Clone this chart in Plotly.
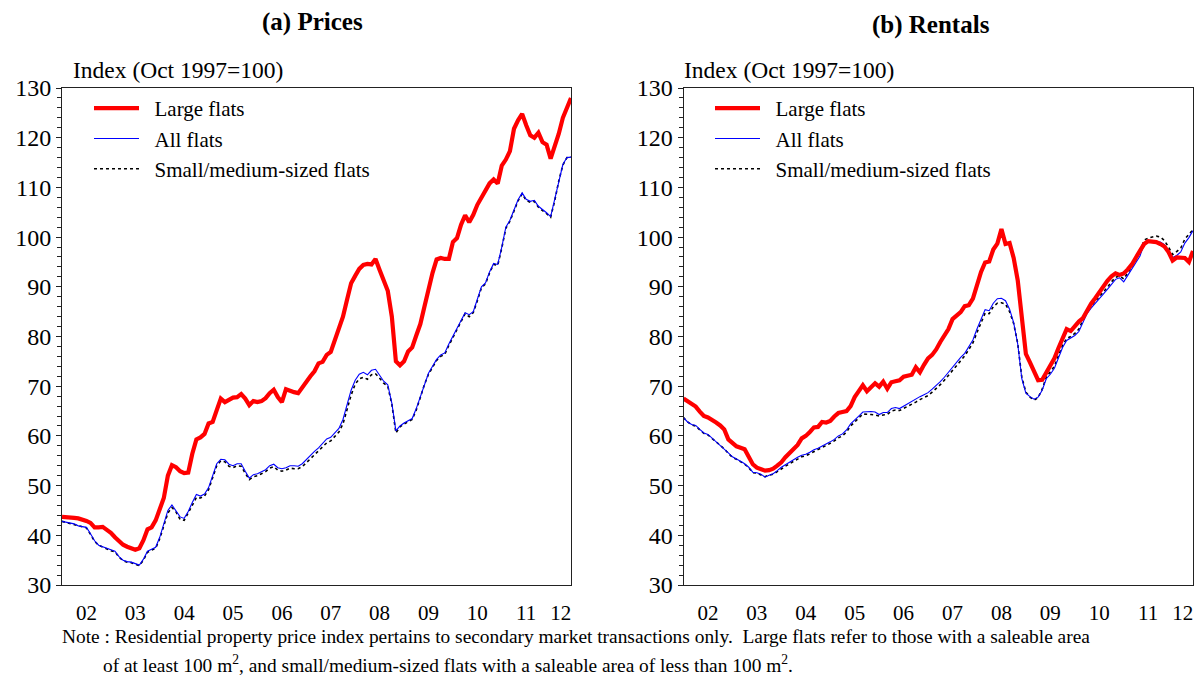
import plotly.graph_objects as go

# ---------------- data (monthly, Jan 2002 - Jun 2012) ----------------
year_labels = ["02", "03", "04", "05", "06", "07", "08", "09", "10", "11", "12"]
n_months = 126

price_large = [43.7,43.7,43.7,43.5,43.4,43.2,42.9,42.5,41.6,41.6,41.7,41.1,
 40.5,39.6,38.7,38.1,37.7,37.5,37.1,37.4,39.0,41.2,41.6,43.0,
 45.3,47.5,52.0,54.1,53.7,52.9,52.5,52.6,56.4,59.3,59.7,60.4,
 62.5,62.8,65.2,67.5,66.8,67.3,67.7,67.8,68.4,67.5,66.2,67.0,
 66.8,67.0,67.6,68.6,69.3,67.8,66.8,69.4,69.0,68.8,68.6,69.8,
 71.0,72.0,73.0,74.6,74.9,76.3,76.9,79.3,81.4,84.0,87.4,90.7,
 92.2,93.6,94.4,94.6,94.5,95.6,93.4,91.0,89.2,84.0,75.0,74.2,
 75.0,77.0,77.8,80.2,82.5,86.0,89.8,92.8,95.5,95.8,95.6,95.6,
 99.0,99.8,102.5,104.4,103.0,104.5,106.5,108.0,109.7,110.8,111.6,110.8,
 114.4,115.6,117.3,121.8,123.5,124.8,122.5,120.5,120.0,121.0,119.1,118.6,
 115.8,118.2,120.8,124.0,126.0,128.0]

price_all = [42.8,42.6,42.5,42.3,41.9,41.8,41.6,40.3,38.9,38.0,37.7,37.4,
 37.0,36.8,35.7,35.0,34.7,34.6,34.3,34.0,35.2,36.8,37.2,37.6,
 39.6,42.3,45.0,46.1,45.0,43.7,43.4,44.8,46.6,48.2,47.9,48.3,
 49.6,52.0,54.4,55.3,55.2,54.3,54.0,54.4,54.4,52.9,51.5,52.2,
 52.4,52.8,53.2,54.0,54.3,53.6,53.4,53.6,54.0,54.0,53.9,54.4,
 55.3,56.2,56.9,57.6,58.6,59.4,59.7,60.5,61.5,63.3,66.3,69.2,
 71.2,72.4,72.8,72.3,73.2,73.4,72.2,71.0,70.3,66.6,61.0,62.0,
 62.6,63.0,63.5,65.5,68.0,70.5,72.6,74.0,75.4,76.3,76.7,78.5,
 80.1,81.5,83.0,84.8,84.4,85.0,87.5,90.0,90.8,93.0,94.7,94.5,
 98.0,102.0,103.4,105.5,107.5,108.9,107.6,107.2,107.4,106.2,105.6,104.9,
 104.1,107.5,111.5,114.6,116.0,116.1]

price_small = [42.8,42.6,42.4,42.2,41.9,41.7,41.5,40.2,38.8,38.0,37.6,37.3,
 36.9,36.7,35.6,34.9,34.6,34.5,34.2,33.9,35.0,36.6,37.0,37.4,
 39.3,42.0,44.5,45.6,44.7,43.2,43.0,44.5,46.2,47.6,47.5,47.9,
 49.2,51.6,54.0,55.0,54.8,53.9,53.6,54.0,53.9,52.5,51.2,51.8,
 52.0,52.4,52.8,53.5,53.8,53.1,52.9,53.1,53.5,53.4,53.4,53.8,
 54.6,55.5,56.2,56.9,57.8,58.6,59.0,59.8,60.8,62.4,65.3,68.2,
 70.4,71.5,71.8,71.4,72.3,72.5,71.6,70.6,70.0,66.4,60.6,61.8,
 62.4,62.9,63.3,65.2,67.8,70.3,72.4,73.8,75.2,76.0,76.4,78.2,
 79.8,81.2,82.8,84.6,84.0,84.8,87.2,89.8,90.6,92.8,94.5,94.3,
 97.8,101.8,103.2,105.3,107.3,108.7,107.4,107.0,107.2,106.0,105.4,104.7,
 104.0,107.3,111.3,114.5,116.0,116.1]

rent_large = [67.5,67.0,66.6,65.9,64.9,64.0,63.7,63.3,62.7,62.1,61.3,59.3,
 58.5,57.9,57.6,57.3,55.8,54.3,53.6,53.3,53.0,53.1,53.4,54.0,
 54.7,55.7,56.6,57.3,58.2,59.5,60.0,60.8,61.7,61.8,62.8,62.7,
 63.0,63.9,64.6,64.8,65.0,66.0,67.8,69.0,70.2,69.0,69.7,70.6,
 69.9,70.9,69.5,70.8,71.0,71.2,71.9,72.1,72.3,73.8,72.8,74.3,
 75.6,76.3,77.4,78.9,80.2,81.5,83.5,84.3,84.9,86.1,86.3,87.6,
 90.4,93.0,94.9,95.1,97.5,98.7,101.6,98.6,98.8,95.8,91.3,83.0,
 76.5,74.8,72.8,71.2,71.3,72.8,74.5,75.6,77.7,79.5,81.5,81.1,
 82.2,83.0,83.7,85.3,86.6,87.7,88.9,90.1,91.2,92.1,92.7,92.4,
 92.7,93.5,94.5,95.9,97.3,98.6,99.2,99.2,99.0,98.6,98.1,97.0,
 95.3,95.9,95.9,95.8,95.0,97.2]

rent_all = [63.7,62.8,62.3,62.1,61.3,60.6,60.3,59.6,58.9,58.2,57.5,56.6,
 55.8,55.4,54.9,54.4,53.7,52.7,52.6,52.3,51.7,52.1,52.4,53.0,
 53.7,54.2,54.7,55.3,55.7,56.1,56.3,56.7,57.2,57.5,57.9,58.3,
 58.8,59.3,60.0,60.4,61.2,62.4,63.3,64.0,64.8,64.9,64.9,64.8,
 64.3,64.7,64.7,65.5,65.7,65.5,66.0,66.5,67.0,67.5,67.9,68.3,
 68.7,69.4,70.1,70.9,71.8,72.8,73.9,74.9,75.8,76.6,78.0,79.3,
 81.5,83.6,85.4,85.2,86.7,87.6,87.7,87.2,85.5,82.8,78.5,71.5,
 68.6,67.9,67.4,67.8,69.2,71.5,72.4,73.6,75.8,77.8,79.2,79.7,
 80.2,81.0,82.8,84.6,85.7,86.6,87.5,88.5,89.5,90.5,91.5,91.8,
 91.0,92.3,93.6,94.8,96.2,98.6,99.0,99.1,99.1,99.0,98.5,97.3,
 95.9,96.3,97.0,98.8,99.9,101.3]

rent_small = [63.7,62.8,62.2,62.0,61.2,60.5,60.2,59.5,58.8,58.1,57.4,56.5,
 55.7,55.3,54.8,54.3,53.6,52.6,52.5,52.2,51.8,52.1,52.3,52.8,
 53.4,53.9,54.4,54.9,55.4,55.8,56.0,56.4,56.9,57.2,57.6,58.0,
 58.5,59.0,59.6,60.0,60.8,62.0,62.9,63.6,64.4,64.4,64.3,64.2,
 64.0,64.2,64.3,65.0,65.2,65.1,65.5,66.0,66.4,66.8,67.3,67.7,
 68.1,68.8,69.5,70.3,71.2,72.2,73.3,74.3,75.2,76.1,77.4,78.7,
 80.8,82.9,84.7,84.6,86.0,86.7,86.8,86.5,85.0,82.6,78.6,71.8,
 68.8,67.8,67.2,67.7,69.4,71.8,72.8,74.0,76.2,78.2,79.6,80.0,
 80.6,81.5,83.3,85.0,86.1,87.0,87.9,88.9,89.9,91.0,91.9,92.2,
 91.6,92.8,94.1,95.4,97.0,99.4,99.8,100.0,100.2,100.0,99.3,98.0,
 96.5,97.1,97.8,99.6,100.5,101.5]

series_names = ["Large flats", "All flats", "Small/medium-sized flats"]
subplot_titles = ["<b>(a) Prices</b>", "<b>(b) Rentals</b>"]
y_title = "Index (Oct 1997=100)"
note_line1 = "Note : Residential property price index pertains to secondary market transactions only.  Large flats refer to those with a saleable area"
note_line2 = "of at least 100 m<sup>2</sup>, and small/medium-sized flats with a saleable area of less than 100 m<sup>2</sup>."

# ---------------- derived axis helpers ----------------
months = list(range(n_months))
last = n_months - 1
year_bounds = [12 * k for k in range(1, len(year_labels))]
label_pos = [12 * k + 6 for k in range(len(year_labels) - 1)] + [(year_bounds[-1] + last) / 2]

FONT = "Liberation Serif"
W, H = 1195, 680


def px(x):
    """window pixel x -> paper fraction"""
    return x / W


def py(y):
    """window pixel y -> paper fraction"""
    return 1 - y / H


fig = go.Figure()

panels = [
    dict(x="x", y="y", legend="legend", data=(price_large, price_all, price_small)),
    dict(x="x2", y="y2", legend="legend2", data=(rent_large, rent_all, rent_small)),
]

styles = [
    dict(color="#ff0000", width=4.2, dash="solid"),
    dict(color="#0000ff", width=1.1, dash="solid"),
    dict(color="#000000", width=1.6, dash="dot"),
]

for p in panels:
    large, allf, small = p["data"]
    # draw order: small (bottom), all, large (top)
    for idx, vals in [(2, small), (1, allf), (0, large)]:
        fig.add_trace(go.Scatter(
            x=months, y=vals, mode="lines",
            name="\u00a0\u00a0" + series_names[idx],
            line=styles[idx],
            xaxis=p["x"], yaxis=p["y"],
            legend=p["legend"], legendgroup=p["legend"] + str(idx),
            legendrank=idx + 1,
            hoverinfo="skip",
        ))

dom_left = [px(62), px(571)]
dom_right = [px(683.5), px(1193)]
dom_y = [py(585), py(88)]


def label_axis(domain, anchor):
    return dict(domain=domain, anchor=anchor, range=[0, last], automargin=False,
                tickmode="array", tickvals=label_pos, ticktext=year_labels,
                ticks="", showgrid=False, zeroline=False,
                showline=True, mirror=True, linecolor="#222", linewidth=1,
                tickfont=dict(family=FONT, size=21, color="#000"),
                ticklabelstandoff=9)


def tick_axis(overlay, anchor):
    return dict(overlaying=overlay, anchor=anchor, range=[0, last], automargin=False,
                tickmode="array", tickvals=year_bounds, ticks="inside",
                ticklen=7, tickcolor="#222", tickwidth=1,
                showticklabels=False, showgrid=False, zeroline=False,
                showline=False,
                minor=dict(tickmode="linear", tick0=0, dtick=1, ticks="outside",
                           ticklen=5, tickcolor="#222", tickwidth=1, showgrid=False))


def y_axis(anchor):
    return dict(domain=dom_y, anchor=anchor, range=[30, 130], automargin=False,
                tickmode="linear", tick0=30, dtick=10, ticks="outside",
                ticklen=5, tickcolor="#222", showgrid=False, zeroline=False,
                showline=True, mirror=True, linecolor="#222", linewidth=1,
                tickfont=dict(family=FONT, size=24, color="#000"),
                minor=dict(dtick=2, ticks="outside", ticklen=4, tickcolor="#222", showgrid=False))


legend_common = dict(
    xanchor="left", yanchor="top", bgcolor="rgba(0,0,0,0)",
    font=dict(family=FONT, size=21, color="#000"),
    traceorder="grouped", tracegroupgap=0, itemwidth=45,
    itemclick=False, itemdoubleclick=False,
)

fig.update_layout(
    width=W, height=H,
    margin=dict(l=0, r=0, t=0, b=0),
    paper_bgcolor="white", plot_bgcolor="white",
    font=dict(family=FONT, color="#000"),
    showlegend=True,
    hovermode=False,
    xaxis=label_axis(dom_left, "y"),
    xaxis2=label_axis(dom_right, "y2"),
    xaxis3=tick_axis("x", "y"),
    xaxis4=tick_axis("x2", "y2"),
    yaxis=y_axis("x"),
    yaxis2=y_axis("x2"),
    legend=dict(x=px(89), y=py(88), **legend_common),
    legend2=dict(x=px(710), y=py(88), **legend_common),
    annotations=[
        dict(text=subplot_titles[0], x=px(312), y=py(22), xref="paper", yref="paper",
             showarrow=False, xanchor="center", yanchor="middle",
             font=dict(family=FONT, size=25, color="#000")),
        dict(text=subplot_titles[1], x=px(931), y=py(25), xref="paper", yref="paper",
             showarrow=False, xanchor="center", yanchor="middle",
             font=dict(family=FONT, size=25, color="#000")),
        dict(text=y_title, x=px(71), y=py(70), xref="paper", yref="paper",
             showarrow=False, xanchor="left", yanchor="middle",
             font=dict(family=FONT, size=23.5, color="#000")),
        dict(text=y_title, x=px(682), y=py(70), xref="paper", yref="paper",
             showarrow=False, xanchor="left", yanchor="middle",
             font=dict(family=FONT, size=23.5, color="#000")),
        dict(text=note_line1, x=px(60), y=py(636), xref="paper", yref="paper",
             showarrow=False, xanchor="left", yanchor="middle",
             font=dict(family=FONT, size=19.4, color="#000")),
        dict(text=note_line2, x=px(101), y=py(664), xref="paper", yref="paper",
             showarrow=False, xanchor="left", yanchor="middle",
             font=dict(family=FONT, size=19.4, color="#000")),
    ],
)

# remove the browser's default page margin so the figure fills the window exactly
page_fix = "document.body.style.margin='0';document.body.style.overflow='hidden';"
fig.write_html("out.html", post_script=page_fix, config={"displayModeBar": False})
